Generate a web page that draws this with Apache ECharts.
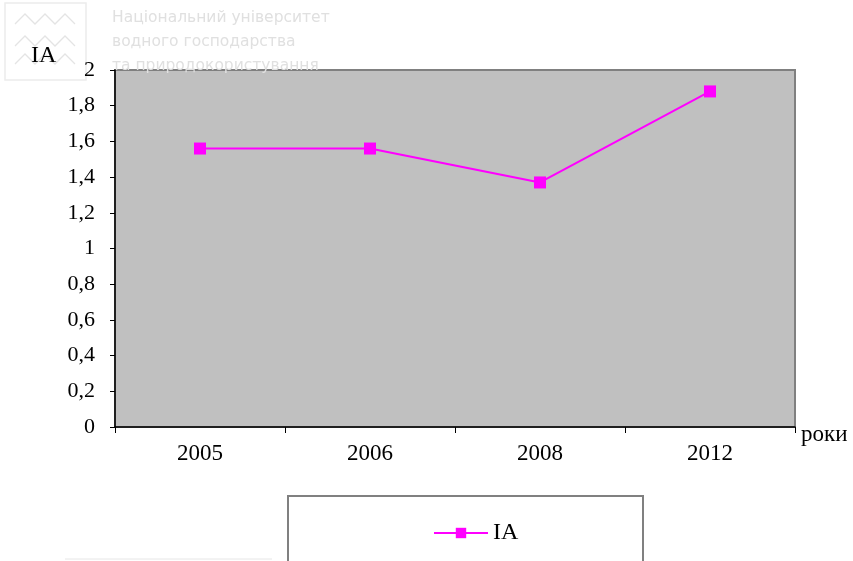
<!DOCTYPE html>
<html>
<head>
<meta charset="utf-8">
<script src="https://cdn.jsdelivr.net/npm/echarts@6/dist/echarts.min.js"></script>
<style>
  html, body { margin: 0; padding: 0; background: #fff; }
  #chart { width: 853px; height: 561px; }
</style>
</head>
<body>
<div id="chart"></div>
<script>
const years = ['2005', '2006', '2008', '2012']
const iaValues = [1.56, 1.56, 1.37, 1.88]
const watermarkLines = ['Національний університет', 'водного господарства', 'та природокористування']

const serif = '"Liberation Serif", "Times New Roman", serif'
const chart = echarts.init(document.getElementById('chart'))

// faint zigzag logo of the watermark
function zigzag(y) {
  const pts = []
  for (let i = 0; i <= 6; i++) {
    pts.push([15 + i * 10, y + (i % 2 === 0 ? 10 : 0)])
  }
  return {
    type: 'polyline',
    shape: { points: pts },
    style: { stroke: '#e4e4e4', lineWidth: 1.3, fill: null },
    silent: true
  }
}

chart.setOption({
  animation: false,
  backgroundColor: '#fff',
  grid: {
    left: 115,
    right: 58,
    top: 70,
    bottom: 134,
    show: true,
    backgroundColor: '#c0c0c0',
    borderColor: '#808080',
    borderWidth: 2
  },
  legend: {
    data: ['IA'],
    left: 428,
    top: 516,
    itemWidth: 54,
    itemHeight: 13,
    itemGap: 4,
    textStyle: { fontFamily: serif, fontSize: 24, color: '#000' }
  },
  xAxis: {
    type: 'category',
    data: years,
    boundaryGap: true,
    axisLine: { lineStyle: { color: '#000', width: 1.5 } },
    axisTick: { show: true, interval: 0, length: 6, lineStyle: { color: '#000' } },
    axisLabel: { fontFamily: serif, fontSize: 23, color: '#000', margin: 15 },
    splitLine: { show: false }
  },
  yAxis: {
    type: 'value',
    min: 0,
    max: 2,
    interval: 0.2,
    axisLine: { show: true, lineStyle: { color: '#000', width: 1.5 } },
    axisTick: { show: true, length: 5, lineStyle: { color: '#000' } },
    axisLabel: {
      fontFamily: serif,
      fontSize: 22,
      color: '#000',
      margin: 20,
      formatter: v => String(Math.round(v * 10) / 10).replace('.', ',')
    },
    splitLine: { show: false }
  },
  series: [{
    name: 'IA',
    type: 'line',
    data: iaValues,
    symbol: 'rect',
    symbolSize: 12,
    lineStyle: { color: '#ff00ff', width: 2 },
    itemStyle: { color: '#ff00ff' }
  }],
  graphic: [
    {
      type: 'rect',
      shape: { x: 5, y: 3, width: 81, height: 77 },
      style: { fill: null, stroke: '#ececec', lineWidth: 1.5 },
      silent: true
    },
    zigzag(14),
    zigzag(36),
    zigzag(54),
    ...watermarkLines.map((t, i) => ({
      type: 'text',
      x: 112,
      y: 18 + i * 24,
      style: {
        text: t,
        fontFamily: '"DejaVu Sans", sans-serif',
        fontSize: 15.5,
        fill: '#e0e0e0',
        verticalAlign: 'middle'
      },
      silent: true
    })),
    {
      type: 'text',
      x: 31,
      y: 56,
      style: { text: 'IA', fontFamily: serif, fontSize: 24, fill: '#000', verticalAlign: 'middle' }
    },
    {
      type: 'text',
      x: 801,
      y: 435,
      style: { text: 'роки', fontFamily: serif, fontSize: 23, fill: '#000', verticalAlign: 'middle' }
    },
    {
      type: 'rect',
      shape: { x: 288, y: 496, width: 355, height: 80 },
      style: { fill: null, stroke: '#808080', lineWidth: 2 },
      z: -1
    },
    {
      type: 'line',
      shape: { x1: 65, y1: 559, x2: 272, y2: 559 },
      style: { stroke: '#e6e6e6', lineWidth: 1 },
      silent: true
    }
  ]
})
</script>
</body>
</html>
